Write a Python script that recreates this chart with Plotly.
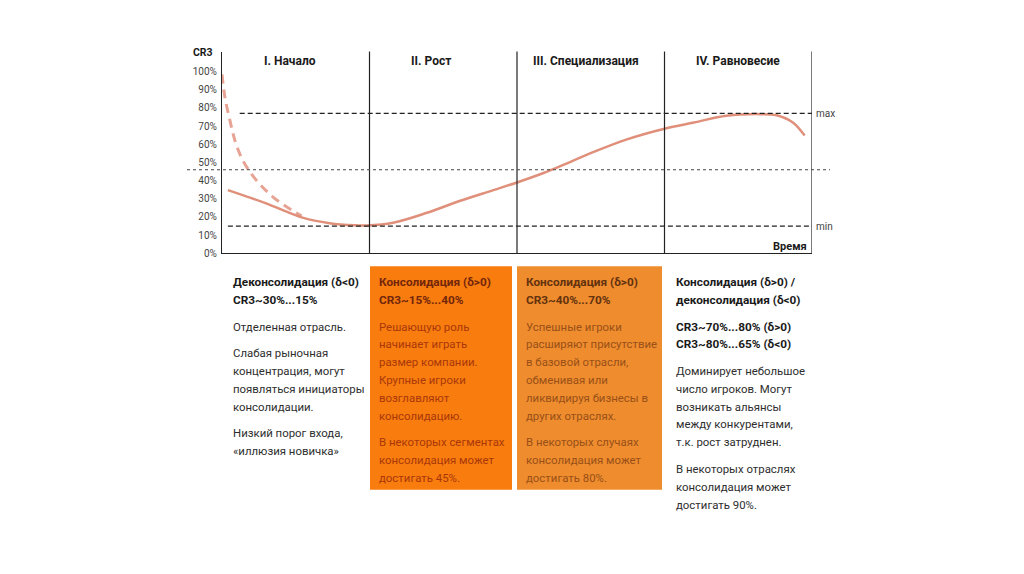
import plotly.graph_objects as go

# ---------------- data ----------------
PHASES = ["I. Начало", "II. Рост", "III. Специализация", "IV. Равновесие"]
PHASE_LABEL_X = [0.46, 1.42, 2.47, 3.5]
PHASE_BOUNDS = [1, 2, 3, 4]

Y_TICKS = [0, 10, 20, 30, 40, 50, 60, 70, 80, 90, 100]
Y_TICK_TEXT = [f"{v}%" for v in Y_TICKS]

# solid curve (time in phase units, CR3 in %)
SOLID_T = [0.04, 0.16, 0.29, 0.42, 0.54, 0.73, 0.9, 0.98, 1.16, 1.39, 1.61, 1.84, 2.0,
           2.18, 2.29, 2.52, 2.74, 3.0, 3.2, 3.42, 3.65, 3.76, 3.87, 3.95]
SOLID_V = [34.8, 31.5, 27.8, 23.5, 19.8, 16.6, 15.4, 15.3, 16.8, 22.3, 28.8, 34.8, 39.0,
           44.2, 47.8, 55.8, 62.6, 68.6, 72.0, 75.7, 76.6, 76.0, 72.0, 64.8]

# dashed curve (alternative start)
DASH_T = [0.0, 0.02, 0.054, 0.088, 0.13, 0.18, 0.25, 0.34, 0.43, 0.54]
DASH_V = [98.5, 85.8, 73.0, 62.0, 53.0, 45.9, 38.6, 31.4, 26.0, 20.5]

MAX_LEVEL = 77
MIN_LEVEL = 15
MID_LEVEL = 46

BLOCKS = [
    {"x": 231, "title_color": "#1a1a1a", "body_color": "#2e2e2e",
     "paras": [(True, ["Деконсолидация (δ<0)", "CR3~30%...15%"]),
               (False, ["Отделенная отрасль."]),
               (False, ["Слабая рыночная", "концентрация, могут", "появляться инициаторы", "консолидации."]),
               (False, ["Низкий порог входа,", "«иллюзия новичка»"])]},
    {"x": 377, "title_color": "#72260c", "body_color": "#a8380a",
     "paras": [(True, ["Консолидация (δ>0)", "CR3~15%...40%"]),
               (False, ["Решающую роль", "начинает играть", "размер компании.", "Крупные игроки",
                        "возглавляют", "консолидацию."]),
               (False, ["В некоторых сегментах", "консолидация может", "достигать 45%."])]},
    {"x": 524, "title_color": "#63320f", "body_color": "#985018",
     "paras": [(True, ["Консолидация (δ>0)", "CR3~40%...70%"]),
               (False, ["Успешные игроки", "расширяют присутствие", "в базовой отрасли,", "обменивая или",
                        "ликвидируя бизнесы в", "других отраслях."]),
               (False, ["В некоторых случаях", "консолидация может", "достигать 80%."])]},
    {"x": 674, "title_color": "#1a1a1a", "body_color": "#2e2e2e",
     "paras": [(True, ["Консолидация (δ>0) /", "деконсолидация (δ<0)"]),
               (True, ["CR3~70%...80% (δ>0)", "CR3~80%...65% (δ<0)"]),
               (False, ["Доминирует небольшое", "число игроков. Могут", "возникать альянсы",
                        "между конкурентами,", "т.к. рост затруднен."]),
               (False, ["В некоторых отраслях", "консолидация может", "достигать 90%."])]},
]

# ---------------- layout helpers ----------------
OFF = 8                      # page body margin
W, H = 1024 - 2 * OFF, 574 - 2 * OFF
Y_MAX = 111.05
FONT = "Roboto"


def px(x):
    return (x - OFF) / W


def py(y):
    return 1 - (y - OFF) / H


fig = go.Figure()

fig.add_trace(go.Scatter(x=DASH_T, y=DASH_V, mode="lines", line_shape="spline",
                         line=dict(color="#e7a393", width=3, dash="9px,6px"),
                         hoverinfo="skip", showlegend=False))
fig.add_trace(go.Scatter(x=SOLID_T, y=SOLID_V, mode="lines", line_shape="spline",
                         line=dict(color="#e0907a", width=2.5),
                         hoverinfo="skip", showlegend=False))

shapes = []
for b in PHASE_BOUNDS:
    shapes.append(dict(type="line", xref="x", yref="y domain", x0=b, x1=b, y0=0, y1=1,
                       line=dict(color="#222", width=1.2)))
shapes.append(dict(type="line", xref="x", yref="y", x0=0.12, x1=4, y0=MAX_LEVEL, y1=MAX_LEVEL,
                   line=dict(color="#222", width=1.4, dash="5px,3px")))
shapes.append(dict(type="line", xref="x", yref="y", x0=0.04, x1=4, y0=MIN_LEVEL, y1=MIN_LEVEL,
                   line=dict(color="#222", width=1.4, dash="5px,3px")))
shapes.append(dict(type="line", xref="paper", yref="y domain", x0=px(187), x1=px(830),
                   y0=MID_LEVEL / Y_MAX, y1=MID_LEVEL / Y_MAX,
                   line=dict(color="#444", width=1, dash="dot")))
shapes.append(dict(type="rect", xref="paper", yref="paper", x0=px(370), x1=px(512), y0=py(495), y1=py(269),
                   fillcolor="#f97c0e", line=dict(width=0), layer="below"))
shapes.append(dict(type="rect", xref="paper", yref="paper", x0=px(517), x1=px(662), y0=py(495), y1=py(269),
                   fillcolor="#ef8c2e", line=dict(width=0), layer="below"))

annotations = []
for name, xv in zip(PHASES, PHASE_LABEL_X):
    annotations.append(dict(text=f"<b>{name}</b>", x=xv, y=py(62), xref="x", yref="paper",
                            showarrow=False, xanchor="center", yanchor="middle",
                            font=dict(family=FONT, size=12, color="#1a1a1a")))
annotations.append(dict(text="<b>CR3</b>", x=px(203), y=py(53), xref="paper", yref="paper",
                        showarrow=False, xanchor="center", yanchor="middle",
                        font=dict(family=FONT, size=10.5, color="#1a1a1a")))
annotations.append(dict(text="<b>Время</b>", x=px(809), y=py(249), xref="paper", yref="paper",
                        showarrow=False, xanchor="right", yanchor="middle",
                        font=dict(family=FONT, size=11, color="#1a1a1a")))
for lbl, lv in (("max", MAX_LEVEL), ("min", MIN_LEVEL)):
    annotations.append(dict(text=lbl, x=px(814), y=lv, xref="paper", yref="y",
                            showarrow=False, xanchor="left", yanchor="middle",
                            font=dict(family=FONT, size=10, color="#444")))

for blk in BLOCKS:
    yy = 285
    for pi, (bold, lines) in enumerate(blk["paras"]):
        if pi > 0:
            yy += 9
        for ln in lines:
            txt = f"<b>{ln}</b>" if bold else ln
            col = blk["title_color"] if bold else blk["body_color"]
            annotations.append(dict(text=txt, x=px(blk["x"]), y=py(yy), xref="paper", yref="paper",
                                    showarrow=False, xanchor="left", yanchor="middle",
                                    font=dict(family=FONT, size=11.8 if bold else 11.4, color=col)))
            yy += 18

fig.update_layout(
    width=W, height=H, margin=dict(l=0, r=0, t=0, b=0),
    paper_bgcolor="white", plot_bgcolor="white",
    xaxis=dict(domain=[px(222), px(812)], range=[0, 4], showgrid=False, zeroline=False,
               showticklabels=False, showline=True, linecolor="#222", linewidth=1.3, ticks=""),
    yaxis=dict(domain=[py(256), py(52)], range=[0, Y_MAX], showgrid=False, zeroline=False,
               tickvals=Y_TICKS, ticktext=Y_TICK_TEXT, showline=True, linecolor="#222", linewidth=1.3,
               ticks="", ticklabelstandoff=2,
               tickfont=dict(family=FONT, size=10, color="#444")),
    shapes=shapes, annotations=annotations,
)

fig.write_html("out.html")
